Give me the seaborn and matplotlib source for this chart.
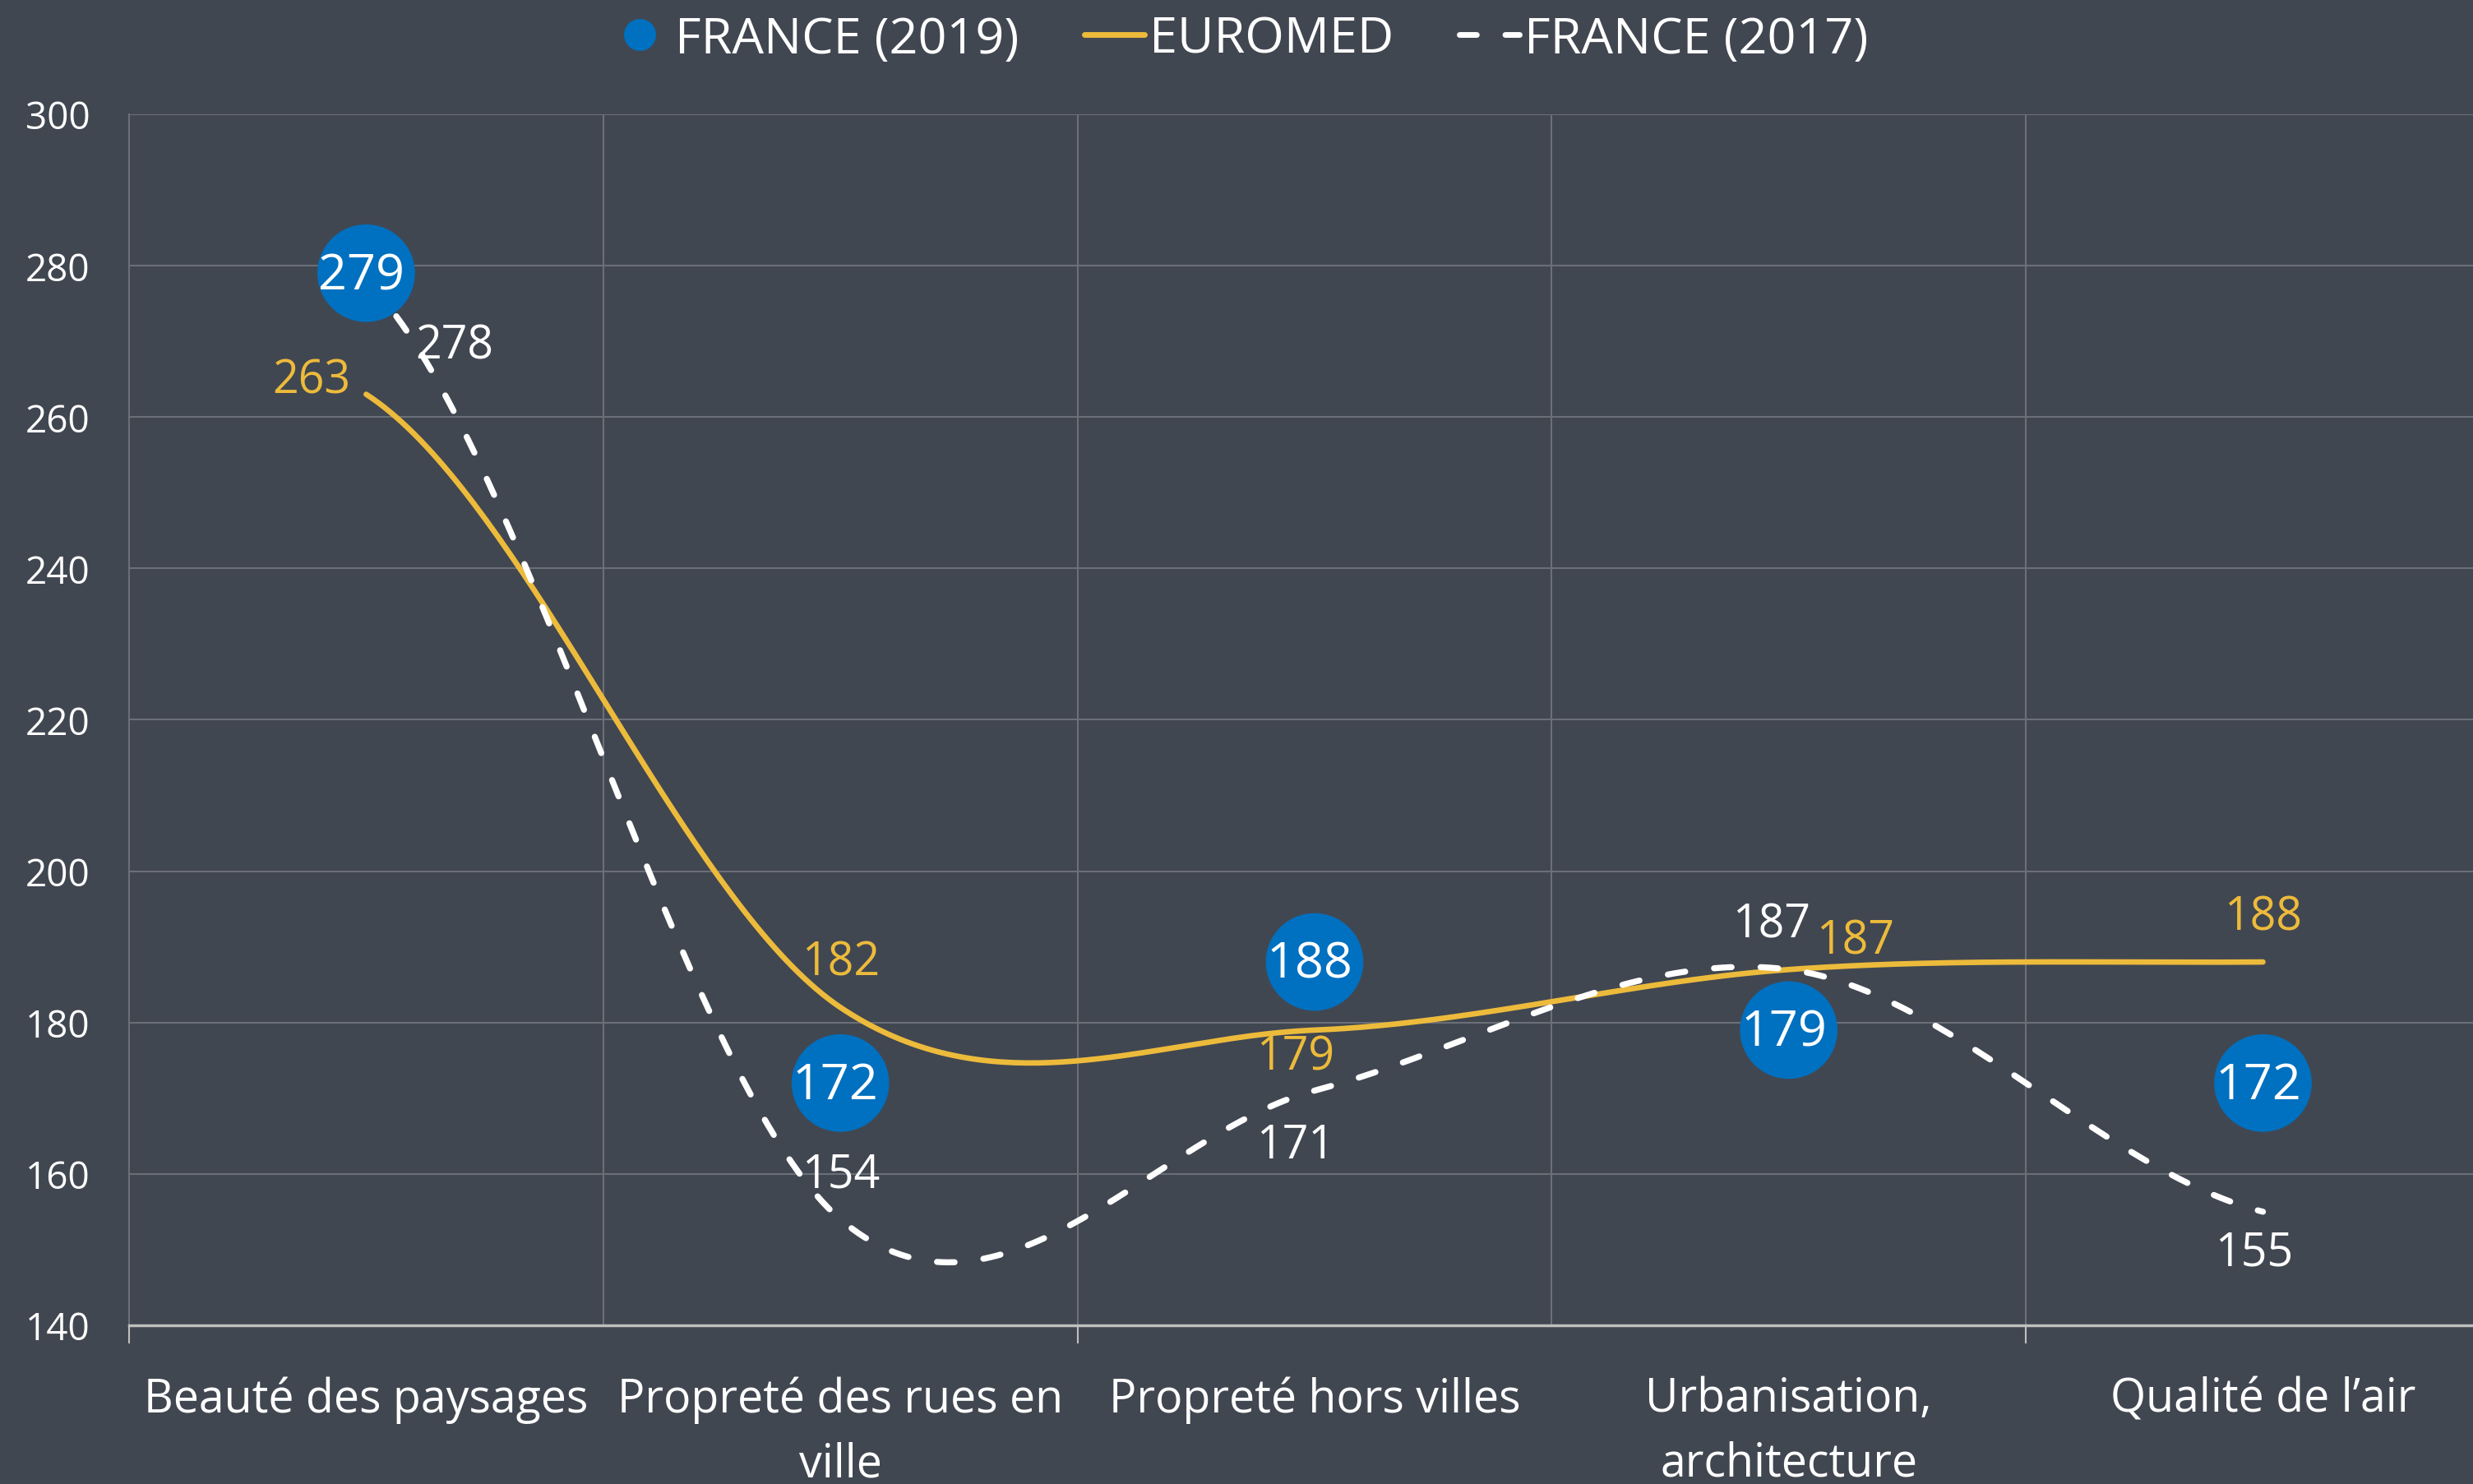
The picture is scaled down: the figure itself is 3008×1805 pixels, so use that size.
import numpy as np
import pandas as pd
import matplotlib
matplotlib.use("Agg")
import matplotlib.pyplot as plt
from matplotlib.lines import Line2D
import seaborn as sns

# chart data
categories = [
    "Beauté des paysages",
    "Propreté des rues en\nville",
    "Propreté hors villes",
    "Urbanisation,\narchitecture",
    "Qualité de l’air",
]
france_2019 = [279, 172, 188, 179, 172]
euromed = [263, 182, 179, 187, 188]
france_2017 = [278, 154, 171, 187, 155]
y_ticks = [140, 160, 180, 200, 220, 240, 260, 280, 300]

# label offsets in points (style only)
euromed_offsets = [(-48, 12), (0, 39), (-17, -24), (58, 25), (0, 39)]
france_2017_offsets = [(77, -57), (0, 39), (-17, -48), (-15, 39), (-8, -36)]

BG = "#414751"
BLUE = "#0070C0"
GOLD = "#EDBB3B"
GRID = "#6B6F77"


def smooth(values, n=80):
    """Catmull-Rom style smoothing, similar to Excel's smoothed lines."""
    y = np.asarray(values, dtype=float)
    x = np.arange(len(y), dtype=float)
    tang = np.empty_like(y)
    tang[1:-1] = (y[2:] - y[:-2]) / 2
    tang[0] = (y[1] - y[0]) / 2
    tang[-1] = (y[-1] - y[-2]) / 2
    xs, ys = [], []
    t = np.linspace(0, 1, n)
    h00 = 2 * t**3 - 3 * t**2 + 1
    h10 = t**3 - 2 * t**2 + t
    h01 = -2 * t**3 + 3 * t**2
    h11 = t**3 - t**2
    for i in range(len(y) - 1):
        xs.append(x[i] + t)
        ys.append(h00 * y[i] + h10 * tang[i] + h01 * y[i + 1] + h11 * tang[i + 1])
    return pd.DataFrame({"x": np.concatenate(xs), "y": np.concatenate(ys)})


sns.set_theme(style="dark", rc={
    "figure.facecolor": BG,
    "axes.facecolor": BG,
    "savefig.facecolor": BG,
    "xtick.bottom": True,
})
plt.rcParams["font.family"] = ["Open Sans", "DejaVu Sans"]

fig = plt.figure(figsize=(30.08, 18.06), dpi=100)
ax = fig.add_axes([0.0522, 0.1069, 0.9478, 0.8156])

# grid lines
for yv in y_ticks[1:]:
    ax.axhline(yv, color=GRID, lw=1.5, zorder=0)
for xv in np.arange(len(categories) - 1) + 0.5:
    ax.axvline(xv, color=GRID, lw=1.5, zorder=0)

# smoothed lines
sns.lineplot(data=smooth(euromed), x="x", y="y", ax=ax, color=GOLD, lw=4.8,
             sort=False, estimator=None, zorder=3)
sns.lineplot(data=smooth(france_2017), x="x", y="y", ax=ax, color="white", lw=5.3,
             sort=False, estimator=None, zorder=3)
ax.lines[-1].set_linestyle((0, (2.9, 4.8)))
ax.lines[-1].set_dash_capstyle("round")
ax.lines[-2].set_solid_capstyle("round")

# circles for 2019
sns.scatterplot(x=np.arange(len(categories)), y=france_2019, ax=ax, s=7300,
                color=BLUE, edgecolor="none", zorder=5)

for i, v in enumerate(france_2019):
    ax.text(i - 0.01, v - 0.3, str(v), color="white", fontsize=44,
            ha="center", va="center", zorder=6)
for i, v in enumerate(euromed):
    ax.annotate(str(v), (i, v), xytext=euromed_offsets[i], textcoords="offset points",
                color=GOLD, fontsize=40, ha="center", va="center", zorder=6)
for i, v in enumerate(france_2017):
    ax.annotate(str(v), (i, v), xytext=france_2017_offsets[i], textcoords="offset points",
                color="white", fontsize=40, ha="center", va="center", zorder=6)

ax.set_xlim(-0.5, 4.443)
ax.set_ylim(140, 300)
ax.set_yticks(y_ticks)
ax.set_yticklabels([str(v) for v in y_ticks])
ax.set_xticks(np.arange(len(categories)))
ax.set_xticklabels(categories, linespacing=1.5)
ax.set_xticks([-0.5, 1.5, 3.5], minor=True)
ax.tick_params(axis="x", which="major", length=0, pad=44, labelsize=40, colors="white")
ax.tick_params(axis="x", which="minor", bottom=True, length=16, width=1.5, color="#BFBFBF")
ax.tick_params(axis="y", length=0, pad=34, labelsize=33, colors="white")
ax.set_xlabel("")
ax.set_ylabel("")
ax.grid(False)

for side in ["top", "right"]:
    ax.spines[side].set_visible(False)
ax.spines["left"].set_color(GRID)
ax.spines["left"].set_linewidth(1.5)
ax.spines["bottom"].set_color("#BFBFBF")
ax.spines["bottom"].set_linewidth(2.5)

handles = [
    Line2D([], [], marker="o", linestyle="none", markersize=27, color=BLUE),
    Line2D([], [], color=GOLD, lw=5, solid_capstyle="round"),
    Line2D([], [], color="white", lw=5, linestyle=(0, (3, 5)), dash_capstyle="round"),
]
fig.legend(handles, ["FRANCE (2019)", "EUROMED", "FRANCE (2017)"],
           loc="center", bbox_to_anchor=(0.501, 0.973), ncol=3, frameon=False,
           fontsize=44, handlelength=1.2, handletextpad=0.1, columnspacing=1.3,
           labelcolor="white")

fig.savefig("out.png", dpi=100)
